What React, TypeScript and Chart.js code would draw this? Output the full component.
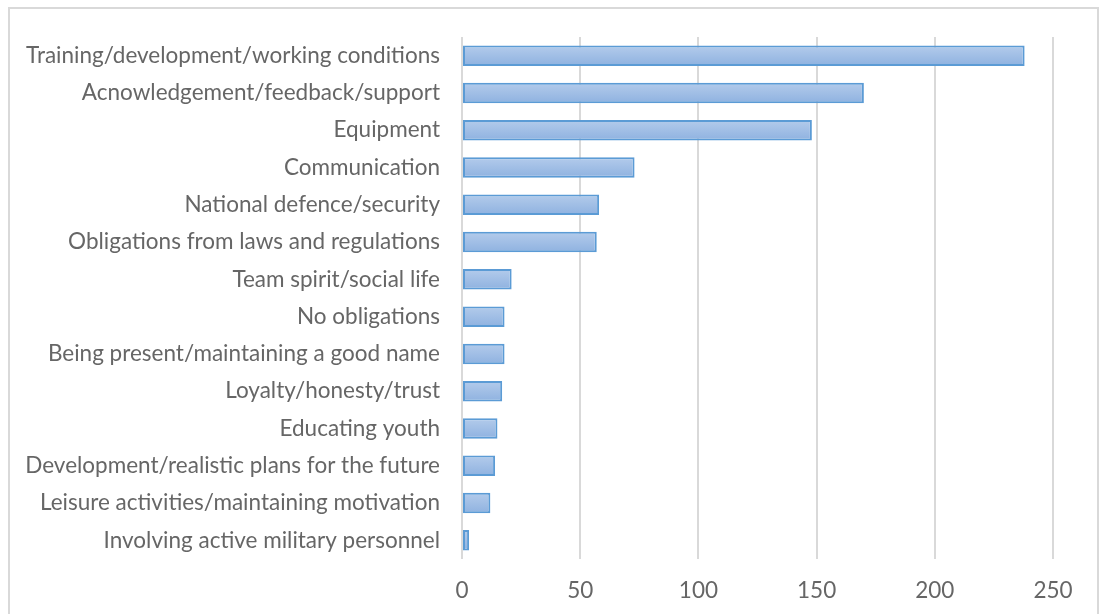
import React, { useEffect, useRef } from 'react';
import { Chart, registerables } from 'chart.js';

Chart.register(...registerables);

const categories = [
  'Training/development/working conditions',
  'Acnowledgement/feedback/support',
  'Equipment',
  'Communication',
  'National defence/security',
  'Obligations from laws and regulations',
  'Team spirit/social life',
  'No obligations',
  'Being present/maintaining a good name',
  'Loyalty/honesty/trust',
  'Educating youth',
  'Development/realistic plans for the future',
  'Leisure activities/maintaining motivation',
  'Involving active military personnel',
];
const values = [238, 170, 148, 73, 58, 57, 21, 18, 18, 17, 15, 14, 12, 3];
const xTicks = [0, 50, 100, 150, 200, 250];

const TEXT = '#666666';
const FONT = { family: 'Lato', size: 22.5 };

export default function App() {
  const ref = useRef<HTMLCanvasElement>(null);
  useEffect(() => {
    const canvas = ref.current!;
    const chart = new Chart(canvas, {
      type: 'bar',
      data: {
        labels: categories,
        datasets: [
          {
            data: values,
            backgroundColor: (ctx: any) => {
              const ch = ctx.chart;
              const y = ch.scales && ch.scales.y;
              if (!y || ctx.type !== 'data') return '#a3bfe6';
              const c = y.getPixelForValue(ctx.dataIndex);
              const half = ((y.height / categories.length) * 0.54) / 2;
              if (!Number.isFinite(c) || !Number.isFinite(half) || half <= 0) return '#a3bfe6';
              const g = ch.ctx.createLinearGradient(0, c - half, 0, c + half);
              g.addColorStop(0, '#b3cbeb');
              g.addColorStop(1, '#8fb2e0');
              return g;
            },
            borderColor: '#5b9bd5',
            borderWidth: 2,
            borderSkipped: false,
            barPercentage: 0.55,
            categoryPercentage: 1,
          },
        ],
      },
      options: {
        indexAxis: 'y',
        responsive: false,
        animation: false,
        devicePixelRatio: 1,
        layout: { padding: { top: 37, right: 46, left: 0, bottom: 0 } },
        plugins: { legend: { display: false }, tooltip: { enabled: false } },
        scales: {
          x: {
            min: 0,
            max: 250,
            afterBuildTicks: (s: any) => {
              s.ticks = xTicks.map((v) => ({ value: v }));
            },
            ticks: { padding: 18, color: TEXT, font: FONT },
            grid: { color: '#d9d9d9', lineWidth: 2, drawTicks: false },
            border: { display: false },
            afterFit: (s: any) => {
              s.height = 55;
            },
          },
          y: {
            ticks: { padding: 22, color: TEXT, font: FONT, autoSkip: false },
            grid: { display: false, drawTicks: false },
            border: { display: false },
            afterFit: (s: any) => {
              s.width = 462;
            },
          },
        },
      } as any,
    });
    return () => chart.destroy();
  }, []);

  return (
    <div>
      <div
        style={{
          position: 'fixed',
          left: 8,
          top: 7,
          width: 1087,
          height: 700,
          borderLeft: '2px solid #d9d9d9',
          borderTop: '2px solid #d9d9d9',
          borderRight: '2px solid #d9d9d9',
          background: '#ffffff',
        }}
      />
      <canvas
        ref={ref}
        width={1099}
        height={614}
        style={{ position: 'fixed', left: 0, top: 0, width: 1099, height: 614 }}
      />
    </div>
  );
}
